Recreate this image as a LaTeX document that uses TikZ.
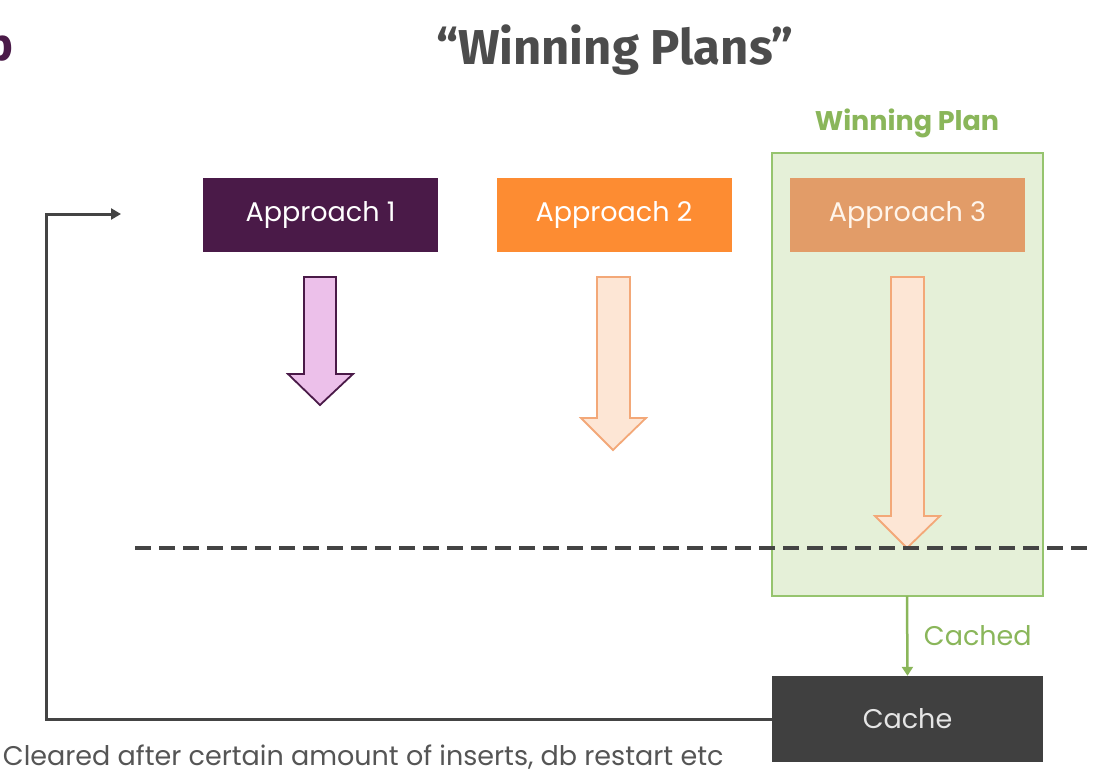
\documentclass[tikz,border=0pt]{standalone}
\usepackage{fontspec}
\setmainfont{Poppins}
\newfontfamily\titlefont{Fira Sans}
\usepackage{tikz}
\usetikzlibrary{arrows.meta}

\definecolor{plumdark}{RGB}{74,26,72}
\definecolor{orangemid}{RGB}{253,140,50}
\definecolor{orangesoft}{RGB}{226,156,104}
\definecolor{pinkfill}{RGB}{236,192,234}
\definecolor{peachfill}{RGB}{253,230,213}
\definecolor{peachline}{RGB}{243,168,120}
\definecolor{greenfill}{RGB}{229,240,216}
\definecolor{greenline}{RGB}{150,196,110}
\definecolor{greentext}{RGB}{138,182,90}
\definecolor{greyline}{RGB}{68,68,68}
\definecolor{greybox}{RGB}{64,64,64}
\definecolor{greytext}{RGB}{85,85,85}

\tikzset{
  approach/.style={minimum width=235, minimum height=74, inner sep=0pt, text=white,
    font=\fontsize{27}{32}\selectfont},
  label text/.style={inner sep=0.75pt, font=\fontsize{27}{32}\selectfont},
}

\begin{document}
\begin{tikzpicture}[x=1pt,y=1pt,yscale=-1,xscale=1]
\useasboundingbox (0,0) rectangle (1100,776);
\clip (0,0) rectangle (1100,776);

% Text Node
\node (cut) [anchor=base east, inner sep=0pt, text=plumdark] at (14,61) {\titlefont\bfseries\fontsize{45}{50}\selectfont p};
% Text Node
\node (title) [inner sep=0.75pt, text=greytext!90!black] at (615,50) {\titlefont\bfseries\fontsize{49}{55}\selectfont “Winning Plans”};

%Shape: Rectangle [id:winbox]
\draw [color=greenline, fill=greenfill, line width=1.5] (772,153) rectangle (1043,596);
\coordinate (winbot) at (907,596);
% Text Node
\node (wintitle) [label text, font=\fontsize{27}{32}\selectfont\bfseries, text=greentext] at (907,123) {Winning Plan};

% Approaches
\node (ap1) [approach, fill=plumdark] at (320.5,215) {Approach 1};
\node (ap2) [approach, fill=orangemid] at (614,215) {Approach 2};
\node (ap3) [approach, fill=orangesoft, text=white!92!orange] at (907.5,215) {Approach 3};

%Shape: Down Arrow [id:arrow1]
\draw [color=plumdark, fill=pinkfill, line width=1.8] (304,277) -- (336,277) -- (336,374) -- (353,374) -- (320,405) -- (288,374) -- (304,374) -- cycle ;
%Shape: Down Arrow [id:arrow2]
\draw [color=peachline, fill=peachfill, line width=1.8] (597,277) -- (630,277) -- (630,418) -- (646,418) -- (613,450) -- (581,418) -- (597,418) -- cycle ;
%Shape: Down Arrow [id:arrow3]
\draw [color=peachline, fill=peachfill, line width=1.8] (891,277) -- (924,277) -- (924,516) -- (940,516) -- (907,548) -- (875,516) -- (891,516) -- cycle ;

%Straight Lines [id:dashline]
\draw [color=greyline, line width=4, dash pattern=on 16 off 8] (135,548) -- (1092,548) ;

% Cache
\node (cache) [approach, minimum width=271, minimum height=86, fill=greybox, text=white!90!black] at (907.5,719) {Cache};

%Straight Lines [id:cached]
\draw [color=greentext, line width=2.5, -{Triangle[length=9, width=11]}] (winbot) -- (cache.north) ;
% Text Node
\node (cachedlbl) [label text, anchor=west, text=greentext] at (923,636) {Cached};

%Straight Lines [id:feedback]
\coordinate (fbcorner) at (46,214);
\coordinate (fbend) at (121,214);
\draw [color=greyline, line width=3, -{Triangle[length=10, width=11]}] (cache.west) -| (fbcorner) -- (fbend) ;

% Text Node
\node (cleared) [label text, anchor=west, text=greytext] at (2,757) {Cleared after certain amount of inserts, db restart etc};

\end{tikzpicture}
\end{document}
